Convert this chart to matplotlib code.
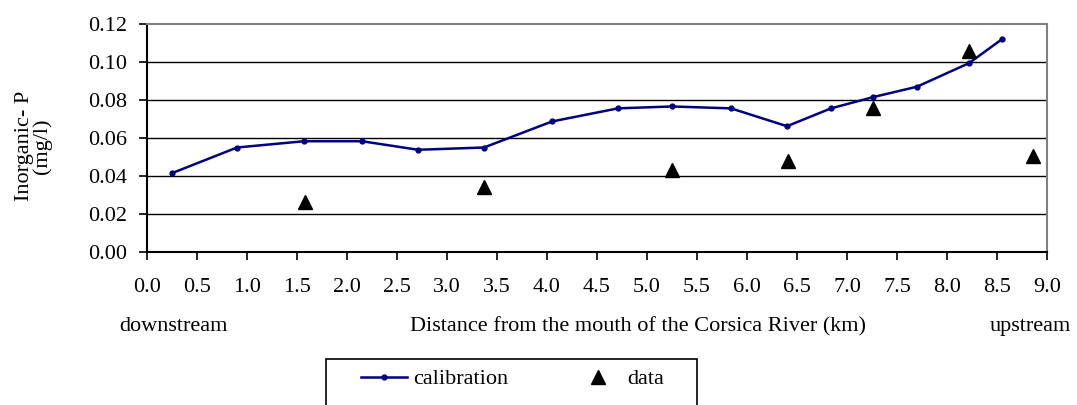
import matplotlib
matplotlib.use('Agg')
import matplotlib.pyplot as plt
from matplotlib.lines import Line2D
from matplotlib.patches import Rectangle

plt.rcParams['font.family'] = ['Liberation Serif', 'DejaVu Serif']
plt.rcParams['font.size'] = 16

# calibration run (distance km, inorganic P mg/l)
calib_km = [0.25, 0.90, 1.57, 2.15, 2.71, 3.37, 4.05, 4.71, 5.25, 5.84, 6.40, 6.84, 7.26, 7.70, 8.22, 8.55]
calib_p = [0.0415, 0.055, 0.0583, 0.0583, 0.0538, 0.055, 0.0687, 0.0756, 0.0766, 0.0756,
           0.0662, 0.0756, 0.0815, 0.087, 0.0994, 0.112]

# observed data
data_km = [1.58, 3.37, 5.25, 6.41, 7.26, 8.22, 8.86]
data_p = [0.0264, 0.0341, 0.043, 0.0478, 0.0756, 0.106, 0.0503]

x_ticks = [i * 0.5 for i in range(19)]
y_ticks = [0.00, 0.02, 0.04, 0.06, 0.08, 0.10, 0.12]

W, H = 1077, 405
fig = plt.figure(figsize=(W / 100, H / 100), dpi=100)
ax = fig.add_axes([147 / W, 1 - 252 / H, 900 / W, 228 / H])

# gridlines (black), skipping the axis and top border
for yv in y_ticks[1:-1]:
    ax.axhline(yv, color='black', lw=1.0, zorder=1)

ax.plot(calib_km, calib_p, color='#000080', lw=1.8, marker='o', ms=3.5, zorder=3)
ax.plot(data_km, data_p, ls='none', marker='^', color='black', ms=10, zorder=4)

ax.set_xlim(0, 9)
ax.set_ylim(0, 0.12)
ax.set_xticks(x_ticks)
ax.set_xticklabels([f'{v:.1f}' for v in x_ticks])
ax.set_yticks(y_ticks)
ax.set_yticklabels([f'{v:.2f}' for v in y_ticks])
ax.tick_params(axis='x', direction='out', length=6, width=1.2, pad=13)
ax.tick_params(axis='y', direction='out', length=6, width=1.2, pad=8)

for s in ['top', 'right']:
    ax.spines[s].set_color('#808080')
    ax.spines[s].set_linewidth(1.5)
for s in ['left', 'bottom']:
    ax.spines[s].set_color('black')
    ax.spines[s].set_linewidth(1.5)

ax.set_ylabel('Inorganic- P\n(mg/l)', linespacing=0.9)
ax.yaxis.set_label_coords(-95 / 900, (252 - 146) / 228)

fig.text(119 / W, 1 - 331 / H, 'downstream', ha='left', va='baseline')
fig.text(410 / W, 1 - 331 / H, 'Distance from the mouth of the Corsica River (km)', ha='left', va='baseline')
fig.text(1071 / W, 1 - 331 / H, 'upstream', ha='right', va='baseline')

# legend
handles = [Line2D([], [], color='#000080', lw=1.8, marker='o', ms=3.5),
           Line2D([], [], ls='none', marker='^', color='black', ms=10)]
fig.legend(handles, ['calibration', 'data'], loc='center left',
           bbox_to_anchor=(361 / W, 1 - 379 / H), ncol=2, frameon=False,
           borderpad=0, borderaxespad=0, handlelength=2.07, handletextpad=0.28,
           columnspacing=3.0, numpoints=1)
fig.add_artist(Rectangle((326 / W, -0.1), (697 - 326) / W, 0.1 + 1 - 359 / H,
                         transform=fig.transFigure, fill=False, ec='black', lw=1.2))

fig.savefig('out.png', dpi=100)
